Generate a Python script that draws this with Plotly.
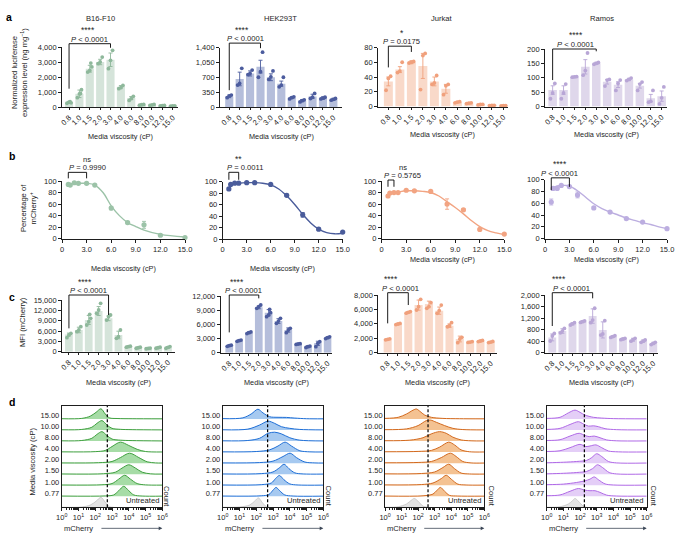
import plotly.graph_objects as go

W, H = 690, 535
FONT = "Liberation Sans, Arial, sans-serif"
TXT = "#1e1e1e"
AX = "#1e1e1e"

# ---------------- data ----------------
CATS = ['0.8', '1.0', '1.5', '2.0', '3.0', '4.0', '6.0', '8.0', '10.0', '12.0', '15.0']
CELLS = ['B16-F10', 'HEK293T', 'Jurkat', 'Ramos']

# panel a: normalized luciferase expression
a_b16_mean = [300, 880, 2550, 3000, 3150, 1350, 600, 150, 140, 90, 70]
a_b16_sd = [60, 250, 230, 180, 450, 80, 100, 30, 30, 20, 20]
a_b16_pts = [[250, 330, 280, 350], [620, 870, 1150, 900], [2330, 2440, 2670, 2930], [2890, 3000, 3330],
             [2555, 3110, 3780], [1220, 1290, 1440], [440, 555, 710], [120, 150, 170], [110, 140, 170],
             [70, 90, 100], [50, 70, 80]]
a_hek_mean = [250, 660, 790, 950, 700, 550, 220, 150, 250, 210, 180]
a_hek_sd = [30, 160, 60, 150, 80, 60, 20, 25, 50, 30, 25]
a_hek_pts = [[220, 260, 280], [515, 555, 910], [760, 790, 870], [700, 830, 1290], [650, 710, 850],
             [475, 515, 700], [190, 220, 240], [120, 150, 170], [200, 230, 320], [190, 210, 230], [160, 180, 200]]
a_jur_mean = [34, 50, 60, 55, 34, 24, 6, 4.5, 2.7, 1.4, 1]
a_jur_sd = [6, 4, 2, 17, 6, 6, 1, 1, 0.8, 0.5, 0.5]
a_jur_pts = [[22, 38, 41], [46, 48, 60], [59, 60, 61], [23, 69, 72], [30, 32, 42], [16, 28, 30],
             [5, 6, 6.5], [4, 4.5, 5], [2.2, 2.7, 3], [1, 1.4, 1.6], [0.8, 1, 1.2]]
a_ram_mean = [57, 57, 103, 138, 150, 86, 76, 94, 72, 29, 36]
a_ram_sd = [15, 15, 2, 25, 4, 8, 10, 4, 8, 13, 18]
a_ram_pts = [[27, 47, 80], [27, 47, 78], [102, 103, 104], [109, 125, 186], [147, 150, 153], [71, 92, 94],
             [56, 80, 92], [90, 94, 99], [56, 78, 85], [15, 18, 56], [9, 30, 68]]

# panel b: percentage of mCherry+
VISC = [0.77, 1.0, 1.5, 2.0, 3.0, 4.0, 6.0, 8.0, 10.0, 12.0, 15.0]
b_b16 = [94, 93, 97, 96, 96, 93, 53, 28, 24, 6, 2]
b_b16_sd = [1.5, 1.5, 1, 1, 1.5, 1, 3, 2, 6, 2, 1]
b_hek = [87, 95, 97, 97, 98, 98, 95, 76, 42, 17, 12]
b_hek_sd = [2, 1, 1, 1, 1, 1, 1, 2, 4, 2, 1]
b_jur = [74, 79, 80, 80, 84, 83, 82, 60, 50, 16, 8]
b_jur_sd = [2, 1, 1, 1, 1, 1, 1, 9, 2, 1, 1]
b_ram = [62, 85, 85, 90, 88, 74, 52, 45, 34, 28, 17]
b_ram_sd = [5, 2, 1, 1, 2, 5, 2, 1, 2, 1, 1]
fit_b16_x = [0.77, 2, 3, 4, 5, 6, 7, 8, 9, 10, 12, 15]
fit_b16_y = [95, 96, 96, 93, 80, 57, 40, 28, 21, 15, 7.5, 3]
fit_hek_x = [0.77, 1, 1.5, 2, 3, 4, 5, 6, 7, 8, 9, 10, 11, 12, 13, 14, 15]
fit_hek_y = [89, 93, 96, 97, 98, 98, 97, 94, 87, 75, 60, 43, 28, 17, 11, 9, 10]
fit_jur_x = [0.77, 1, 1.5, 2, 3, 4, 5, 6, 7, 8, 9, 10, 11, 12, 13, 14, 15]
fit_jur_y = [75, 78, 80, 81, 83, 83, 82, 80, 74, 64, 54, 43, 31, 21, 14, 10, 7]
fit_ram_x = [0.77, 1, 1.5, 2, 2.5, 3, 4, 5, 6, 7, 8, 9, 10, 11, 12, 13, 14, 15]
fit_ram_y = [82, 86, 89, 90, 90, 89, 81, 70, 59, 51, 45, 40, 35, 31, 27, 24, 20, 17]

# panel c: MFI (mCherry)
c_b16_mean = [5000, 6300, 9200, 11800, 9700, 4850, 1450, 1150, 950, 1150, 1250]
c_b16_sd = [400, 800, 1300, 1300, 700, 1100, 200, 150, 150, 150, 250]
c_b16_pts = [[4060, 4840, 5320], [5800, 6290, 7260], [7740, 8710, 9680, 10840], [11130, 12100, 14030],
             [9190, 10160, 10650], [3870, 4350, 6290], [1300, 1450, 1600], [1000, 1150, 1300],
             [850, 950, 1050], [1000, 1150, 1300], [1000, 1250, 1500]]
c_hek_mean = [1480, 2540, 4240, 9600, 8470, 6700, 4800, 1840, 1270, 1980, 3180]
c_hek_sd = [150, 150, 200, 300, 650, 500, 450, 100, 200, 450, 200]
c_hek_pts = [[1350, 1480, 1600], [2400, 2540, 2680], [4050, 4240, 4400], [9390, 9740, 10100],
             [7620, 7980, 8470, 9180], [6210, 6700, 7270], [4240, 4800, 5150], [1750, 1840, 1900],
             [1100, 1270, 1400], [1270, 1980, 2330], [3000, 3180, 3350]]
c_jur_mean = [1850, 3980, 5600, 6600, 6750, 5830, 3750, 1900, 1480, 1620, 1480]
c_jur_sd = [80, 100, 120, 700, 400, 500, 250, 400, 80, 100, 100]
c_jur_pts = [[1780, 1850, 1920], [3900, 3980, 4060], [5480, 5600, 5700], [5920, 6380, 7400],
             [6150, 6380, 6940], [5460, 5830, 6610], [3600, 3750, 4160], [1390, 1900, 2130],
             [1420, 1480, 1540], [1540, 1620, 1700], [1400, 1480, 1560]]
c_ram_mean = [530, 750, 1000, 1075, 1270, 790, 560, 475, 450, 400, 320]
c_ram_sd = [120, 80, 40, 30, 250, 280, 30, 30, 50, 40, 40]
c_ram_pts = [[405, 578, 665], [690, 750, 840], [960, 1000, 1040], [1050, 1075, 1100], [1040, 1130, 1540],
             [610, 650, 1110], [530, 560, 590], [450, 475, 500], [400, 450, 500], [360, 400, 440], [280, 320, 360]]

# panel d: ridge histograms (log10 mCherry knots, relative heights), rows bottom-up
D_ROWS = ['0.77', '1.00', '1.50', '2.00', '4.00', '8.00', '10.00', '15.00']
d_b16_x = [[0, 2.6, 3.1, 3.4, 3.7, 4.0, 4.3, 4.8, 6], [0, 2.4, 3.0, 3.4, 3.76, 4.1, 4.5, 5.0, 6],
           [0, 2.5, 3.2, 3.6, 4.0, 4.4, 4.8, 5.3, 6], [0, 2.2, 3.0, 3.5, 4.05, 4.6, 5.1, 5.6, 6],
           [0, 2.0, 2.6, 3.0, 3.5, 4.0, 4.5, 5.0, 6], [0, 1.2, 1.8, 2.1, 2.4, 2.7, 3.0, 3.5, 4.2, 6],
           [0, 1.2, 1.8, 2.1, 2.4, 2.7, 3.0, 3.5, 4.2, 6], [0, 1.2, 1.7, 2.05, 2.34, 2.6, 2.85, 3.3, 4.2, 6]]
d_b16_y = [[0.02, 0.03, 0.12, 0.5, 0.9, 0.5, 0.12, 0.02, 0.01], [0.02, 0.04, 0.15, 0.55, 0.9, 0.55, 0.15, 0.03, 0.01],
           [0.02, 0.04, 0.18, 0.55, 0.85, 0.55, 0.18, 0.03, 0.01], [0.02, 0.04, 0.15, 0.5, 0.9, 0.5, 0.12, 0.02, 0.01],
           [0.02, 0.04, 0.15, 0.5, 0.9, 0.6, 0.25, 0.05, 0.01], [0.02, 0.05, 0.25, 0.6, 0.85, 0.5, 0.18, 0.08, 0.04, 0.01],
           [0.02, 0.05, 0.25, 0.6, 0.85, 0.45, 0.15, 0.06, 0.03, 0.01], [0.02, 0.05, 0.25, 0.6, 0.92, 0.45, 0.1, 0.04, 0.02, 0.01]]
d_b16_unt = ([0, 1.2, 1.7, 2.05, 2.34, 2.6, 2.85, 3.1], [0, 0.03, 0.2, 0.55, 0.9, 0.45, 0.05, 0])

d_hek_x = [[0, 2.3, 2.75, 3.0, 3.18, 3.4, 3.7, 4.2, 6], [0, 2.3, 2.9, 3.15, 3.38, 3.65, 4.0, 4.5, 6],
           [0, 2.3, 3.0, 3.4, 3.66, 3.95, 4.3, 4.8, 6], [0, 2.2, 3.0, 3.6, 4.02, 4.4, 4.9, 5.5, 6],
           [0, 2.0, 2.8, 3.3, 3.72, 4.1, 4.6, 5.2, 6], [0, 1.5, 2.2, 2.7, 3.1, 3.5, 4.0, 4.6, 6],
           [0, 1.5, 2.2, 2.7, 3.1, 3.5, 4.0, 4.6, 6], [0, 1.2, 1.7, 2.1, 2.4, 2.8, 3.3, 3.8, 4.3, 5, 6]]
d_hek_y = [[0.02, 0.04, 0.15, 0.55, 0.8, 0.5, 0.12, 0.02, 0.01], [0.02, 0.05, 0.2, 0.6, 0.88, 0.5, 0.12, 0.02, 0.01],
           [0.02, 0.05, 0.2, 0.6, 0.9, 0.5, 0.12, 0.02, 0.01], [0.02, 0.05, 0.18, 0.6, 0.9, 0.5, 0.1, 0.02, 0.01],
           [0.02, 0.05, 0.2, 0.55, 0.9, 0.55, 0.12, 0.02, 0.01], [0.02, 0.05, 0.25, 0.7, 0.8, 0.65, 0.3, 0.08, 0.01],
           [0.02, 0.08, 0.45, 0.8, 0.6, 0.3, 0.15, 0.05, 0.01], [0.03, 0.1, 0.45, 0.88, 0.55, 0.2, 0.15, 0.14, 0.08, 0.02, 0.01]]
d_hek_unt = ([0, 1.0, 1.6, 1.9, 2.13, 2.35, 2.6, 2.8], [0, 0.03, 0.2, 0.55, 0.85, 0.45, 0.06, 0])

d_jur_x = [[0, 2.3, 2.9, 3.15, 3.35, 3.6, 3.9, 4.4, 6], [0, 2.2, 2.9, 3.4, 3.7, 4.0, 4.4, 4.9, 6],
           [0, 2.2, 3.0, 3.5, 3.85, 4.2, 4.6, 5.1, 6], [0, 2.0, 2.8, 3.4, 3.95, 4.3, 4.7, 5.2, 6],
           [0, 2.0, 2.8, 3.3, 3.85, 4.2, 4.6, 5.1, 6], [0, 1.5, 2.3, 2.8, 3.3, 3.7, 4.1, 4.6, 5.2, 6],
           [0, 1.3, 2.0, 2.5, 2.75, 3.1, 3.6, 4.1, 4.7, 6], [0, 0.8, 1.3, 1.7, 1.9, 2.1, 2.4, 2.8, 3.5, 4.5, 6]]
d_jur_y = [[0.02, 0.04, 0.2, 0.55, 0.8, 0.45, 0.08, 0.02, 0.01], [0.03, 0.06, 0.2, 0.6, 0.9, 0.55, 0.1, 0.02, 0.01],
           [0.03, 0.06, 0.2, 0.6, 0.9, 0.5, 0.1, 0.02, 0.01], [0.03, 0.06, 0.15, 0.5, 0.9, 0.6, 0.15, 0.02, 0.01],
           [0.03, 0.06, 0.15, 0.45, 0.9, 0.65, 0.2, 0.03, 0.01], [0.03, 0.08, 0.3, 0.65, 0.85, 0.7, 0.35, 0.1, 0.02, 0.01],
           [0.03, 0.1, 0.4, 0.85, 0.9, 0.7, 0.4, 0.15, 0.04, 0.01], [0.05, 0.15, 0.45, 0.8, 0.9, 0.7, 0.35, 0.15, 0.05, 0.02, 0.01]]
d_jur_unt = ([0, 0.8, 1.3, 1.6, 1.77, 2.0, 2.3, 2.6], [0, 0.05, 0.3, 0.65, 0.8, 0.55, 0.1, 0])

d_ram_x = [[0, 0.8, 1.4, 1.9, 2.3, 2.6, 2.9, 3.2, 3.6, 4.2, 6], [0, 1.0, 1.8, 2.3, 2.6, 2.85, 3.1, 3.5, 4.0, 6],
           [0, 1.0, 1.8, 2.4, 2.75, 3.05, 3.35, 3.75, 4.2, 6], [0, 1.0, 1.8, 2.4, 2.7, 3.0, 3.3, 3.7, 4.2, 6],
           [0, 0.8, 1.4, 2.0, 2.35, 2.6, 2.95, 3.3, 3.7, 4.3, 6], [0, 0.8, 1.4, 1.95, 2.3, 2.55, 2.85, 3.2, 3.6, 4.2, 6],
           [0, 0.8, 1.4, 1.9, 2.2, 2.5, 2.8, 3.1, 3.5, 4.2, 6], [0, 0.8, 1.3, 1.7, 2.0, 2.3, 2.8, 3.3, 4.0, 6]]
d_ram_y = [[0.05, 0.12, 0.45, 0.7, 0.55, 0.5, 0.5, 0.35, 0.1, 0.02, 0.01], [0.05, 0.1, 0.25, 0.4, 0.55, 0.75, 0.5, 0.12, 0.02, 0.01],
           [0.03, 0.08, 0.15, 0.25, 0.5, 0.85, 0.6, 0.15, 0.02, 0.01], [0.03, 0.08, 0.15, 0.25, 0.5, 0.85, 0.6, 0.15, 0.02, 0.01],
           [0.05, 0.12, 0.4, 0.7, 0.5, 0.55, 0.65, 0.4, 0.1, 0.02, 0.01], [0.05, 0.12, 0.45, 0.7, 0.5, 0.4, 0.45, 0.3, 0.1, 0.02, 0.01],
           [0.05, 0.15, 0.5, 0.75, 0.55, 0.35, 0.38, 0.3, 0.12, 0.03, 0.01], [0.05, 0.15, 0.55, 0.8, 0.6, 0.35, 0.15, 0.08, 0.03, 0.01]]
d_ram_unt = ([0, 0.8, 1.3, 1.55, 1.7, 1.9, 2.2, 2.4], [0, 0.05, 0.3, 0.6, 0.8, 0.55, 0.1, 0])
d_gate = [10 ** 2.72, 10 ** 2.68, 10 ** 2.6, 10 ** 2.26]

# ---------------- styling ----------------
BAR_COL = ['#d5e4da', '#b5bedb', '#f9d9c9', '#dfd7eb']
PT_COL = ['#8eb89b', '#4c5c9e', '#f0a07c', '#b8a6d6']
LINE_COL = ['#9cc3a8', '#4a5c9b', '#f2a482', '#bcaee0']
D_LINE = ['#3f9f3f', '#1f6fd6', '#d2691e', '#b06ae6']
D_FILL = ['#a6dca6', '#a6c9f0', '#f4c292', '#e4cef7']
TICK_FS = 7.5
LAB_FS = 7.6
XT_FS = 7.3

# panel geometry in px: (left, right, top, bottom)
GEOM = {
    1: (62, 178, 47, 107), 2: (220, 342, 47.5, 107), 3: (378, 508, 47.5, 106.5), 4: (545, 667, 49, 106.5),
    5: (62, 185, 181, 238.7), 6: (222.7, 342.7, 181.5, 239), 7: (381.7, 504.3, 181, 238.7), 8: (545, 667, 179.5, 238.7),
    9: (62, 175, 300, 351.7), 10: (220.7, 331.7, 296, 352.7), 11: (378.3, 496.7, 295, 352.7), 12: (545, 658.3, 295, 352.7),
    13: (61.7, 162.3, 405.7, 507.3), 14: (222.7, 323.3, 405.7, 507.3), 15: (385, 484.3, 405.7, 507.3), 16: (546.7, 646.7, 405.7, 507.3),
}
A_XR = [(-0.68, 10.51), (-0.89, 10.83), (-0.9, 10.4), (-0.7, 10.49)]
C_XR = [(-0.7, 10.71), (-0.87, 10.41), (-0.91, 10.58), (-0.72, 10.5)]
A_YR = [(0, 4000, 1000), (0, 1400, 350), (0, 80, 20), (0, 200, 50)]
C_YR = [(0, 15000, 3000), (0, 12000, 3000), (0, 8000, 2000), (0, 2000, 400)]
D_YMAX = 9.2


def px(x):
    return x / W


def py(y):
    return 1 - y / H


def xid(i):
    return 'x' if i == 1 else f'x{i}'


def yid(i):
    return 'y' if i == 1 else f'y{i}'


def akey(c, i):
    return f'{c}axis' if i == 1 else f'{c}axis{i}'


def base_axis():
    return dict(showline=True, linecolor=AX, linewidth=0.8, ticks='outside', ticklen=3, tickwidth=0.8,
                tickcolor=AX, showgrid=False, zeroline=False, automargin=False,
                tickfont=dict(size=TICK_FS, color=TXT, family=FONT), fixedrange=True)


fig = go.Figure()
layout = dict(template='none', width=W, height=H, autosize=False,
              margin=dict(l=0, r=0, t=0, b=0, pad=0, autoexpand=False), paper_bgcolor='white',
              plot_bgcolor='rgba(0,0,0,0)', showlegend=False, font=dict(family=FONT, size=TICK_FS, color=TXT))
shapes, annos = [], []

for i, (l, r, t, b) in GEOM.items():
    xa = base_axis()
    ya = base_axis()
    xa.update(domain=[px(l), px(r)], anchor=yid(i))
    ya.update(domain=[py(b), py(t)], anchor=xid(i))
    layout[akey('x', i)] = xa
    layout[akey('y', i)] = ya

OFFS = [-0.2, 0.0, 0.2, 0.1]


def bar_panel(i, k, mean, sd, pts, xr, yr):
    xs = list(range(len(CATS)))
    fig.add_trace(go.Bar(x=xs, y=mean, width=0.78, marker=dict(color=BAR_COL[k], line=dict(width=0)),
                         error_y=dict(type='data', array=sd, color=PT_COL[k], thickness=0.9, width=2),
                         xaxis=xid(i), yaxis=yid(i)))
    px_, py_ = [], []
    for j, grp in enumerate(pts):
        for m, v in enumerate(grp):
            px_.append(j + OFFS[m % 4])
            py_.append(v)
    fig.add_trace(go.Scatter(x=px_, y=py_, mode='markers', cliponaxis=False,
                             marker=dict(size=3.8, color=PT_COL[k], line=dict(width=0)),
                             xaxis=xid(i), yaxis=yid(i)))
    layout[akey('x', i)].update(range=list(xr), tickvals=xs, ticktext=CATS, tickangle=-45, ticklen=2.5)
    layout[akey('y', i)].update(range=[yr[0], yr[1]], tickvals=list(range(yr[0], yr[1] + 1, yr[2])),
                                tickformat=',')


A_DATA = [(a_b16_mean, a_b16_sd, a_b16_pts), (a_hek_mean, a_hek_sd, a_hek_pts),
          (a_jur_mean, a_jur_sd, a_jur_pts), (a_ram_mean, a_ram_sd, a_ram_pts)]
C_DATA = [(c_b16_mean, c_b16_sd, c_b16_pts), (c_hek_mean, c_hek_sd, c_hek_pts),
          (c_jur_mean, c_jur_sd, c_jur_pts), (c_ram_mean, c_ram_sd, c_ram_pts)]
for k in range(4):
    bar_panel(1 + k, k, *A_DATA[k], A_XR[k], A_YR[k])
    bar_panel(9 + k, k, *C_DATA[k], C_XR[k], C_YR[k])

# panel b
B_DATA = [(b_b16, b_b16_sd, fit_b16_x, fit_b16_y), (b_hek, b_hek_sd, fit_hek_x, fit_hek_y),
          (b_jur, b_jur_sd, fit_jur_x, fit_jur_y), (b_ram, b_ram_sd, fit_ram_x, fit_ram_y)]
for k in range(4):
    i = 5 + k
    yv, sd, fx, fy = B_DATA[k]
    fig.add_trace(go.Scatter(x=fx, y=fy, mode='lines', line=dict(color=LINE_COL[k], width=1.4, shape='spline'),
                             xaxis=xid(i), yaxis=yid(i)))
    fig.add_trace(go.Scatter(x=VISC, y=yv, mode='markers', cliponaxis=False,
                             error_y=dict(type='data', array=sd, color=LINE_COL[k], thickness=0.9, width=2),
                             marker=dict(size=5.2, color=LINE_COL[k], line=dict(width=0)),
                             xaxis=xid(i), yaxis=yid(i)))
    layout[akey('x', i)].update(range=[0, 15], tickvals=[0, 3, 6, 9, 12, 15],
                                ticktext=['0', '3.0', '6.0', '9.0', '12.0', '15.0'])
    layout[akey('y', i)].update(range=[0, 100], tickvals=[0, 20, 40, 60, 80, 100])

# panel d
D_DATA = [(d_b16_x, d_b16_y, d_b16_unt), (d_hek_x, d_hek_y, d_hek_unt),
          (d_jur_x, d_jur_y, d_jur_unt), (d_ram_x, d_ram_y, d_ram_unt)]
for k in range(4):
    i = 13 + k
    xs_all, ys_all, unt = D_DATA[k]
    n = len(D_ROWS)
    for row in range(n - 1, -1, -1):
        base = row + 1
        kx = [10 ** v for v in xs_all[row]]
        ky = [base + v for v in ys_all[row]]
        fig.add_trace(go.Scatter(x=[kx[0], kx[-1]], y=[base, base], mode='lines', line=dict(width=0),
                                 xaxis=xid(i), yaxis=yid(i)))
        fig.add_trace(go.Scatter(x=kx, y=ky, mode='lines', fill='tonexty', fillcolor=D_FILL[k],
                                 line=dict(color=D_LINE[k], width=1.0, shape='spline', smoothing=0.9),
                                 xaxis=xid(i), yaxis=yid(i)))
    ux = [10 ** v for v in unt[0]]
    fig.add_trace(go.Scatter(x=ux, y=unt[1], mode='lines', fill='tozeroy', fillcolor='#e4e4e4',
                             line=dict(color='#c4c4c4', width=0.8, shape='spline', smoothing=0.9),
                             xaxis=xid(i), yaxis=yid(i)))
    # gate line drawn as a trace so it sits on top of the ridges
    fig.add_trace(go.Scatter(x=[d_gate[k], d_gate[k]], y=[0, D_YMAX], mode='lines',
                             line=dict(color='black', width=1.2, dash='3px,2px'), xaxis=xid(i), yaxis=yid(i)))
    layout[akey('x', i)].update(type='log', range=[0, 6], mirror=True,
                                tickvals=[10 ** e for e in range(7)],
                                ticktext=[f'10<sup>{e}</sup>' for e in range(7)],
                                minor=dict(ticks='outside', ticklen=1.8, tickwidth=0.6, tickcolor=AX, dtick='D1'))
    layout[akey('y', i)].update(range=[0, D_YMAX], mirror=True, ticks='',
                                tickvals=[r + 1.3 for r in range(len(D_ROWS))], ticktext=D_ROWS)
    annos.append(dict(text='Untreated', xref=xid(i) + ' domain', yref=yid(i), x=0.985, y=0.05, xanchor='right',
                      yanchor='bottom', showarrow=False, font=dict(size=LAB_FS, color=TXT)))

# ---------------- brackets ----------------
# (panel, x0, x1, top, left-leg bottom, right-leg bottom, text x, stars x, stars, p text, p anchor)
BRACKETS = [
    (1, 0, 4, 4220, 1220, 3950, 2.0, 1.8, '****', '<i>P</i> < 0.0001', 'center'),
    (2, 0, 3, 1503, 395, 1384, 1.55, 1.22, '****', '<i>P</i> < 0.0001', 'center'),
    (3, 0, 2, 81.8, 53, 74, 1.16, 1.16, '*', '<i>P</i> = 0.0175', 'center'),
    (4, 0, 4, 200, 92, 192, 2.1, 2.1, '****', '<i>P</i> < 0.0001', 'center'),
    (5, 0.77, 3.0, 115, 104.6, 104.6, 3.1, 3.1, 'ns', '<i>P</i> = 0.9990', 'center'),
    (6, 0.77, 2.0, 116, 103, 103, 0.3, 2.0, '**', '<i>P</i> = 0.0011', 'left'),
    (7, 0.77, 1.5, 101.7, 90, 90, 0.0, 2.65, 'ns', '<i>P</i> = 0.5765', 'left'),
    (8, 0.77, 3.0, 102.8, 82, 87.6, 1.84, 1.84, '****', '<i>P</i> < 0.0001', 'center'),
    (9, 0, 4, 16450, 6770, 10650, 1.95, 1.6, '****', '<i>P</i> < 0.0001', 'center'),
    (10, 0, 3, 12210, 4300, 11500, 1.46, 0.83, '****', '<i>P</i> < 0.0001', 'center'),
    (11, 0, 2, 8320, 4070, 6610, 1.2, 0.3, '****', '<i>P</i> < 0.0001', 'center'),
    (12, 0, 4, 2080, 925, 1885, 1.9, 0.7, '****', '<i>P</i> < 0.0001', 'center'),
]
for (i, x0, x1, top, lb, rb, tx, sx, stars, ptxt, anc) in BRACKETS:
    y0, y1 = layout[akey('y', i)]['range']

    def fr(v):
        return (v - y0) / (y1 - y0)

    yr = yid(i) + ' domain'
    ln = dict(color='black', width=0.9)
    shapes.append(dict(type='line', xref=xid(i), yref=yr, x0=x0, x1=x1, y0=fr(top), y1=fr(top), line=ln))
    shapes.append(dict(type='line', xref=xid(i), yref=yr, x0=x0, x1=x0, y0=fr(lb), y1=fr(top), line=ln))
    shapes.append(dict(type='line', xref=xid(i), yref=yr, x0=x1, x1=x1, y0=fr(rb), y1=fr(top), line=ln))
    annos.append(dict(text=ptxt, xref=xid(i), yref=yr, x=tx, y=fr(top), xanchor=anc, yanchor='bottom',
                      yshift=-2, showarrow=False, font=dict(size=LAB_FS, color=TXT)))
    st_size = 7.5 if stars == 'ns' else 8.5
    annos.append(dict(text=stars, xref=xid(i), yref=yr, x=sx, y=fr(top), xanchor='center', yanchor='bottom',
                      yshift=6.5, showarrow=False, font=dict(size=st_size, color=TXT)))

# ---------------- x-axis titles ----------------
XT_SHIFT = {1: 30, 2: 30, 3: 28, 4: 28, 5: 29.5, 6: 29.5, 7: 20.6, 8: 20.6, 9: 31, 10: 30, 11: 30, 12: 30}
for i, s in XT_SHIFT.items():
    annos.append(dict(text='Media viscosity (cP)', xref=xid(i) + ' domain', yref=yid(i) + ' domain', x=0.5, y=0,
                      xanchor='center', yanchor='middle', yshift=-s, showarrow=False,
                      font=dict(size=XT_FS, color=TXT)))


def paper_text(txt, x, y, size=LAB_FS, angle=0, color=TXT):
    annos.append(dict(text=txt, xref='paper', yref='paper', x=px(x), y=py(y), xanchor='center',
                      yanchor='middle', textangle=angle, showarrow=False, font=dict(size=size, color=color)))


# row titles
TITLE_X = [100, 280, 442, 602]
for k, c in enumerate(CELLS):
    paper_text(c, TITLE_X[k], 19)

# panel letters
for lt, (x, y) in zip('abcd', [(9, 17), (12, 156), (12, 297), (12, 402)]):
    paper_text(f'<b>{lt}</b>', x, y, size=10.5, color='black')

# y titles
paper_text('Normalized luciferase<br>expression level (ng mg<sup>−1</sup>)', 20, 73, angle=-90)
paper_text('Percentage of<br>mCherry<sup>+</sup>', 28, 208, angle=-90)
paper_text('MFI (mCherry)', 22, 322, angle=-90)
paper_text('Media viscosity (cP)', 31.5, 462, angle=-90)

# d-row labels: Count, mCherry and arrow
COUNT_X = [167, 328.5, 491.5, 653.5]
for k in range(4):
    i = 13 + k
    paper_text('Count', COUNT_X[k], 496, angle=90)
    annos.append(dict(text='mCherry', xref=xid(i) + ' domain', yref=yid(i) + ' domain', x=0, y=-0.207,
                      xanchor='left', yanchor='middle', showarrow=False, font=dict(size=LAB_FS, color=TXT)))
    annos.append(dict(text='', xref=xid(i) + ' domain', yref=yid(i) + ' domain', x=1.0, y=-0.207,
                      axref=xid(i) + ' domain', ayref=yid(i) + ' domain', ax=0.38, ay=-0.207,
                      showarrow=True, arrowhead=2, arrowsize=0.9, arrowwidth=0.8, arrowcolor='#3b4656'))

layout['shapes'] = shapes
layout['annotations'] = annos
fig.update_layout(**layout)
fig.write_html('out.html')
